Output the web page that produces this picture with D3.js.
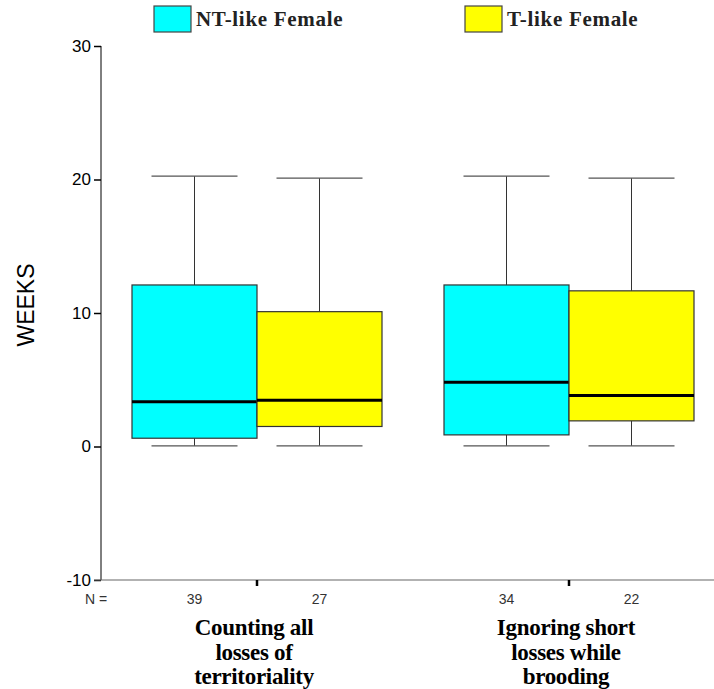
<!DOCTYPE html>
<html><head><meta charset="utf-8">
<script src="https://cdn.jsdelivr.net/npm/d3@7"></script>
<style>body{margin:0;background:#fff}svg{display:block}</style>
</head><body>
<svg id="c" width="714" height="689"></svg>
<script>
const groups = ["Counting all losses of territoriality", "Ignoring short losses while brooding"];
const groupLines = [["Counting all","losses of","territoriality"],["Ignoring short","losses while","brooding"]];
const series = ["NT-like Female", "T-like Female"];
const colors = ["#00FFFF", "#FFFF00"];
const nValues = [[39, 27], [34, 22]];
// [lowerWhisker, Q1, median, Q3, upperWhisker]
const ntLike = [[0.05, 0.62, 3.35, 12.1, 20.25], [0.05, 0.87, 4.82, 12.1, 20.25]];
const tLike  = [[0.05, 1.5, 3.47, 10.1, 20.1], [0.05, 1.92, 3.82, 11.66, 20.1]];
const yTicks = [-10, 0, 10, 20, 30];

const svg = d3.select("#c");
const pL = 101, pT = 46, pB = 580, pR = 725;
const y = d3.scaleLinear().domain([-10, 30]).range([pB, pT]);
const x = d3.scaleBand().domain(groups).range([pL, pR]).padding(0);
const sx = d3.scaleBand().domain(series).range([0, 250]);

const yAxis = d3.axisLeft(y).tickValues(yTicks).tickSize(7).tickPadding(3).tickFormat(d => String(d));
const ga = svg.append("g").attr("transform", `translate(${pL},0)`).call(yAxis);
ga.select(".domain").attr("stroke", "#000").attr("d", `M0,${pT}V${pB}`);
ga.selectAll(".tick line").attr("stroke", "#000").attr("stroke-width", 1.5);
ga.selectAll(".tick text").attr("font-family", "Liberation Sans, Arial, sans-serif").attr("font-size", 17).attr("fill", "#000");

svg.append("line").attr("x1", 94).attr("x2", 714).attr("y1", pB).attr("y2", pB)
  .attr("stroke", "#666").attr("stroke-width", 1.2);

groups.forEach((g, gi) => {
  const cx = x(g) + x.bandwidth() / 2;
  svg.append("line").attr("x1", cx).attr("x2", cx).attr("y1", pB).attr("y2", pB + 6)
    .attr("stroke", "#000").attr("stroke-width", 2.5);
  const data = [ntLike[gi], tLike[gi]];
  series.forEach((s, si) => {
    const d = data[si];
    const bx = cx - 125 + sx(s);
    const bw = sx.bandwidth();
    const mid = bx + bw / 2;
    svg.append("line").attr("x1", mid).attr("x2", mid).attr("y1", y(d[4])).attr("y2", y(d[3]))
      .attr("stroke", "#333").attr("stroke-width", 1);
    svg.append("line").attr("x1", mid).attr("x2", mid).attr("y1", y(d[1])).attr("y2", y(d[0]))
      .attr("stroke", "#333").attr("stroke-width", 1);
    [d[0], d[4]].forEach(v => {
      svg.append("line").attr("x1", mid - 43).attr("x2", mid + 43).attr("y1", y(v)).attr("y2", y(v))
        .attr("stroke", "#555").attr("stroke-width", 1.3);
    });
    svg.append("rect").attr("x", bx).attr("y", y(d[3])).attr("width", bw).attr("height", y(d[1]) - y(d[3]))
      .attr("fill", colors[si]).attr("stroke", "#333").attr("stroke-width", 1.2);
    svg.append("line").attr("x1", bx).attr("x2", bx + bw).attr("y1", y(d[2])).attr("y2", y(d[2]))
      .attr("stroke", "#000").attr("stroke-width", 3);
    svg.append("text").attr("x", mid).attr("y", 604).attr("text-anchor", "middle")
      .attr("font-family", "Liberation Sans Narrow, Liberation Sans, Arial, sans-serif").attr("font-size", 14)
      .attr("fill", "#333").text(nValues[gi][si]);
  });
  groupLines[gi].forEach((ln, li) => {
    svg.append("text").attr("x", cx - 3).attr("y", 635 + li * 24.5).attr("text-anchor", "middle")
      .attr("font-family", "Liberation Serif, Times New Roman, serif").attr("font-weight", "bold")
      .attr("font-size", 23).attr("letter-spacing", -0.3).attr("fill", "#000").text(ln);
  });
});
svg.append("text").attr("x", 96).attr("y", 604).attr("text-anchor", "middle")
  .attr("font-family", "Liberation Sans Narrow, Liberation Sans, Arial, sans-serif").attr("font-size", 14)
  .attr("fill", "#333").text("N =");

svg.append("text").attr("transform", "translate(34,305) rotate(-90)").attr("text-anchor", "middle")
  .attr("font-family", "Liberation Sans, Arial, sans-serif").attr("font-size", 23).attr("fill", "#000").text("WEEKS");

const legX = [154, 465];
series.forEach((s, si) => {
  svg.append("rect").attr("x", legX[si]).attr("y", 6).attr("width", 37).attr("height", 26)
    .attr("fill", colors[si]).attr("stroke", "#444").attr("stroke-width", 1.2);
  svg.append("text").attr("x", legX[si] + 42).attr("y", 26)
    .attr("font-family", "Liberation Serif, Times New Roman, serif").attr("font-weight", "bold")
    .attr("font-size", 21).attr("letter-spacing", 0.7).attr("fill", "#222").text(s);
});
</script>
</body></html>
